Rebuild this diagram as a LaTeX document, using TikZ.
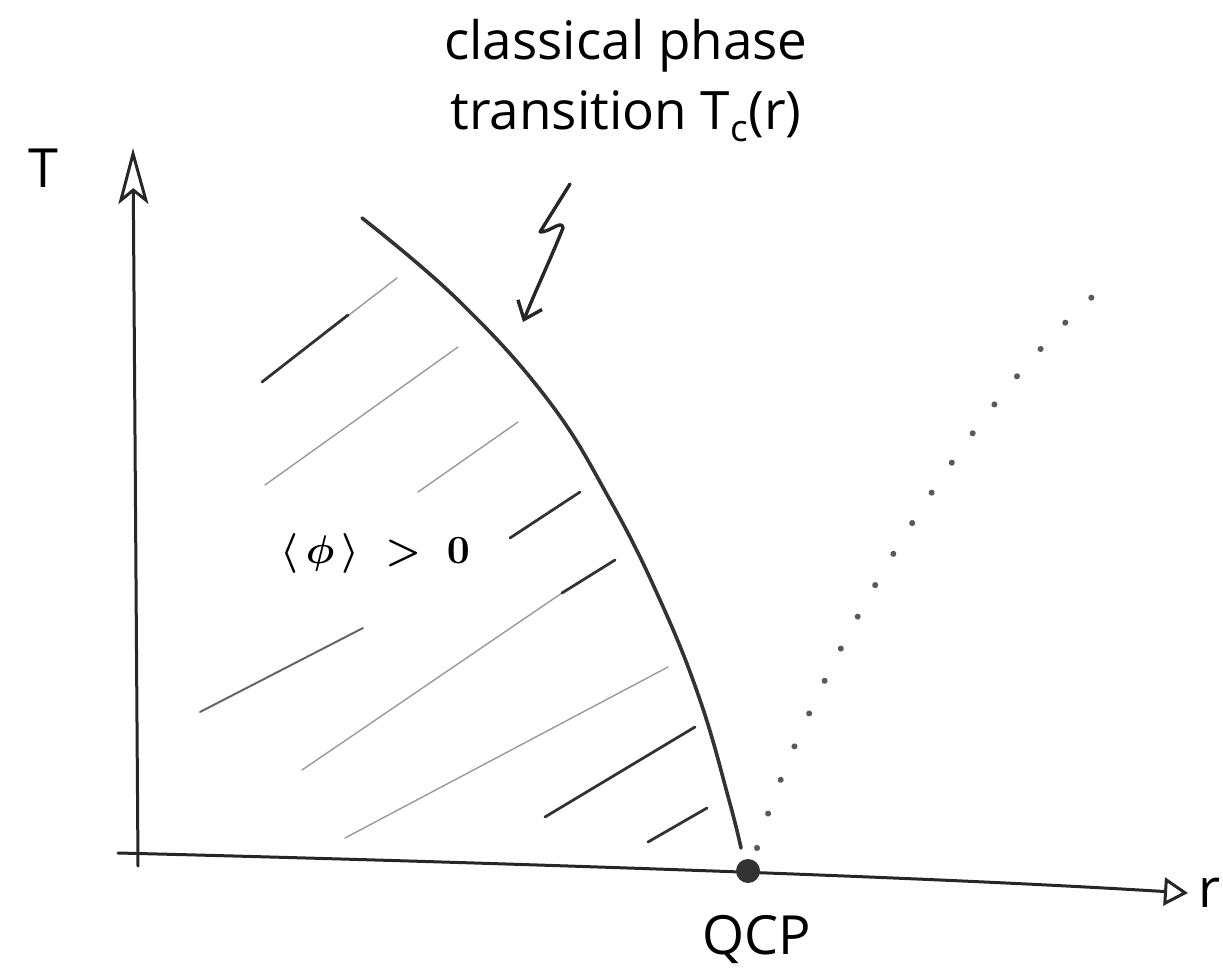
\documentclass[tikz,border=0pt]{standalone}
\usepackage{fontspec}
\setmainfont{Open Sans}
\usetikzlibrary{arrows.meta}
\begin{document}
\begin{tikzpicture}[x=1pt,y=-1pt,
  axis/.style={line width=3pt, black!85, line cap=round},
  boundary/.style={line width=3.6pt, black!80, line cap=round},
  hatchdark/.style={line width=2.8pt, black!80, line cap=round},
  hatchmid/.style={line width=2pt, black!60, line cap=round},
  hatchlight/.style={line width=1.4pt, black!40, line cap=round},
  dotline/.style={line width=6pt, black!65, line cap=round, dash pattern=on 0.1pt off 36pt},
  squig/.style={line width=3.4pt, black!85, line cap=round, line join=round},
  title/.style={font=\fontsize{53}{60}\selectfont, anchor=base},
  hand/.style={font=\fontsize{54}{60}\selectfont},
  qcpdot/.style={circle, fill=black!80, minimum size=24pt, inner sep=0pt}
]
\useasboundingbox (0,0) rectangle (1223,968);

% axes
\coordinate (Tbot) at (138,866);
\coordinate (Ttip) at (133,148);
\coordinate (rstart) at (118,853);
\coordinate (qcpc) at (748,871);
\coordinate (rtip) at (1188,893);
\draw[axis, -{Stealth[open, length=56pt, width=30pt, inset=12pt, line width=3pt]}] (Tbot) -- (Ttip);
\draw[axis, -{Triangle[open, length=24pt, width=28pt, line width=3pt]}] (rstart) .. controls (400,860) and (900,875) .. (rtip);

% hatching
\draw[hatchlight] (262,382) -- (397,278);
\draw[hatchdark] (262,382) -- (348,315);
\draw[hatchlight] (265,485) -- (458,347);
\draw[hatchlight] (418,492) -- (518,422);
\draw[hatchdark] (510,538) -- (580,492);
\draw[hatchmid] (200,712) -- (363,628);
\draw[hatchlight] (302,770) -- (562,593);
\draw[hatchdark] (562,593) -- (615,560);
\draw[hatchlight] (345,838) -- (668,667);
\draw[hatchdark] (545,817) -- (695,727);
\draw[hatchdark] (648,842) -- (707,808);

% phase boundary
\draw[boundary] plot[smooth, tension=0.7] coordinates {(362,218) (458,300) (548,400) (610,500) (660,600) (700,700) (729,800) (741,848)};

% crossover dotted line
\coordinate (dstart) at (757,848);
\coordinate (dend) at (1100,290);
\draw[dotline] (dstart) .. controls (800,700) and (950,420) .. (dend);

% QCP
\node[qcpdot] (qcp) at (qcpc) {};
\node[hand] (qcplabel) at (757,940) {QCP};

% labels
\node[hand] (Tlabel) at (43,168) {T};
\node[hand] (rlabel) at (1210,893) {r};
\node (order) at (375,553) {\scalebox{4}{\boldmath$\langle\,\phi\,\rangle\;>\;0$}};

\node[title] (title1) at (626,60) {classical phase};
\node[title] (title2) at (626,130) {transition T\textsubscript{c}(r)};

% squiggle arrow
\coordinate (sqa) at (570,184);
\coordinate (sqb) at (540,232);
\coordinate (sqc) at (563,228);
\coordinate (sqd) at (523,322);
\draw[squig, -{Straight Barb[length=16pt, width=26pt, line width=3.4pt]}] (sqa) -- (sqb) to[out=-5, in=95] (sqc) to[out=-112, in=68] (sqd);
\end{tikzpicture}
\end{document}
